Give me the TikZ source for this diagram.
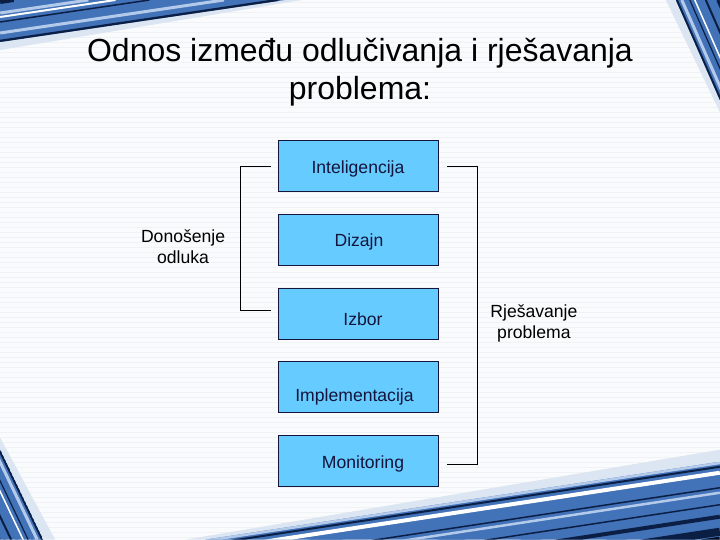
\documentclass[tikz,border=0pt]{standalone}
\usepackage{fontspec}
\setmainfont{Liberation Sans}
\usetikzlibrary{positioning}
\definecolor{boxfill}{HTML}{66CCFF}
\definecolor{boxline}{HTML}{14143C}
\definecolor{pozadina}{HTML}{FAFBFC}
\definecolor{crte}{HTML}{F0F2F6}
\definecolor{traka}{HTML}{4272B8}
\definecolor{trakatamna}{HTML}{0B1F45}
\definecolor{trakacrna}{HTML}{050E22}
\definecolor{trakasvijetla}{HTML}{B4CAEA}
\definecolor{sjena}{HTML}{DCE5F2}
\begin{document}
\begin{tikzpicture}[x=1pt,y=-1pt,
  faza/.style={draw=boxline,fill=boxfill,line width=0.8pt,minimum width=160pt,minimum height=51pt,inner sep=0pt},
  fazatext/.style={font=\fontsize{17.6}{20}\selectfont,text=boxline,inner sep=0pt},
  opis/.style={font=\fontsize{17.6}{21}\selectfont,align=center,inner sep=0pt},
  zagrada/.style={line width=0.8pt}]
% pozadina
\fill[pozadina] (0,0) rectangle (720,540);
\foreach \y in {2,7,...,537} \draw[crte,line width=0.4pt] (0,\y) -- (720,\y);
\useasboundingbox (0,0) rectangle (720,540);

% ukrasi u kutovima
\fill[sjena] (0,42) -- (285,0) -- (302,0) -- (0,50) -- cycle;
\begin{scope}
  \clip (0,0) -- (285,0) -- (0,42) -- cycle;
  \fill[traka] (0,0) rectangle (285,42);
  \foreach \c/\boja/\w in {2/trakatamna/4,8/traka/3,13/trakasvijetla/3,17/white/2,22/trakatamna/1.5,27/traka/3,33/trakasvijetla/3,37/traka/2,41/trakatamna/2.5}
    \draw[\boja,line width=\w pt] (0,\c) -- ({\c*285/42},0);
\end{scope}
\fill[sjena] (676,0) -- (720,100) -- (720,112) -- (666,0) -- cycle;
\begin{scope}
  \clip (676,0) -- (720,0) -- (720,100) -- cycle;
  \fill[traka] (676,0) rectangle (720,100);
  \foreach \d/\boja/\w in {1/trakatamna/2,6/trakasvijetla/3,10/traka/2,14/trakatamna/1.2,19/white/1.5,24/traka/3,30/trakatamna/2,36/traka/3,42/trakatamna/3}
    \draw[\boja,line width=\w pt] (676+\d,0) -- (720+\d,100);
\end{scope}
\fill[sjena] (0,450) -- (43,540) -- (55,540) -- (0,438) -- cycle;
\begin{scope}
  \clip (0,450) -- (43,540) -- (0,540) -- cycle;
  \fill[traka] (0,450) rectangle (43,540);
  \foreach \d/\boja/\w in {1/trakatamna/2,6/trakasvijetla/3,11/traka/2,15/trakatamna/1.2,20/white/1.5,26/traka/3,32/trakatamna/2,38/traka/3,44/trakatamna/3}
    \draw[\boja,line width=\w pt] (-\d,450) -- (43-\d,540);
\end{scope}
\fill[sjena] (205,540) -- (720,462) -- (720,450) -- (185,540) -- cycle;
\begin{scope}
  \clip (205,540) -- (720,462) -- (720,540) -- cycle;
  \fill[traka] (205,462) rectangle (720,540);
  \foreach \d/\boja/\w in {1/trakasvijetla/3,5/trakatamna/2,11/white/4,18/traka/5,26/trakatamna/1.5,31/trakasvijetla/2.5,37/traka/4,43/trakatamna/1.5,49/traka/3,55/trakatamna/4,62/traka/3,70/trakatamna/8,79/trakacrna/8}
    \draw[\boja,line width=\w pt] (205,540+\d) -- (720,462+\d);
\end{scope}

% naslov
\node[font=\fontsize{32}{38.4}\selectfont,align=center,inner sep=0pt] (naslov) at (360,72.5)
  {Odnos između odlučivanja i rješavanja\\problema:};

% faze
\node[faza,label={[fazatext,yshift=-3pt]center:Inteligencija}] (int) at (358,166) {};
\node[faza,below=22pt of int,label={[fazatext,xshift=1pt,yshift=-2pt]center:Dizajn}] (diz) {};
\node[faza,below=22pt of diz,label={[fazatext,xshift=5pt,yshift=-6pt]center:Izbor}] (izb) {};
\node[faza,below=22pt of izb,label={[fazatext,xshift=-3.5pt,yshift=-9.5pt]center:Implementacija}] (imp) {};
\node[faza,below=22pt of imp,label={[fazatext,xshift=5pt,yshift=-3pt]center:Monitoring}] (mon) {};

% zagrade
\draw[zagrada] ([xshift=-7pt]int.west) -| ([xshift=-37pt,yshift=3pt]izb.west) -- ([xshift=-7pt,yshift=3pt]izb.west);
\draw[zagrada] ([xshift=9pt]int.east) -| ([xshift=39pt,yshift=-3.5pt]mon.east) -- ([xshift=9pt,yshift=-3.5pt]mon.east);

\node[opis] (odluke) at (183,247) {Donošenje\\odluka};
\node[opis] (rjesavanje) at (534,323.5) {Rješavanje\\problema};
\end{tikzpicture}
\end{document}
